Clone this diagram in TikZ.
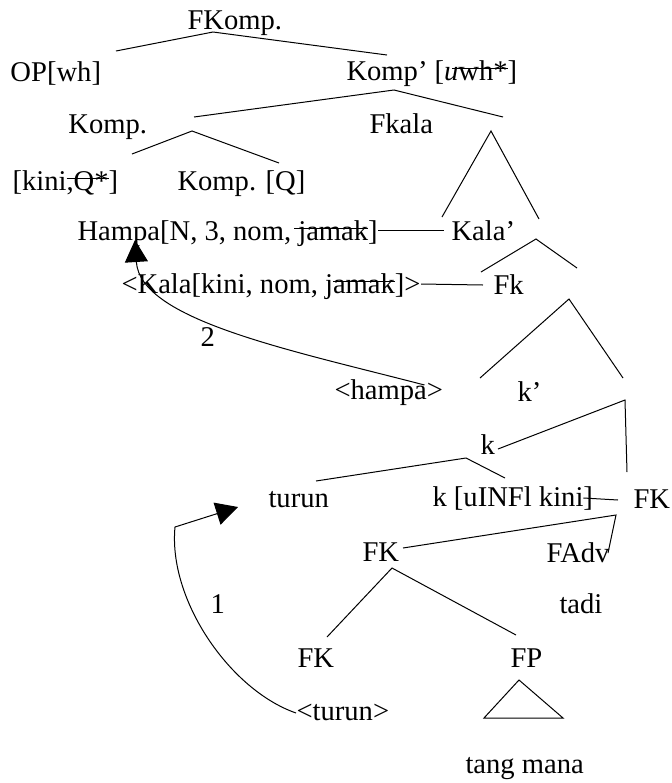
\documentclass[tikz,border=0pt]{standalone}
\usepackage{fontspec}
\setmainfont{Liberation Serif}
\usetikzlibrary{arrows.meta}
\newcommand\strk[2][0pt]{\begingroup\setbox0\hbox{#2}\rlap{\hskip-#1\rule[0.37em]{\dimexpr\wd0+#1\relax}{0.5pt}}\box0\endgroup}
\begin{document}
\begin{tikzpicture}[x=0.5pt,y=-0.5pt,line width=0.5pt,
  every node/.style={font=\fontsize{14.3}{17}\selectfont},
  lbl/.style={anchor=base west,inner sep=0pt},
  mv/.style={-{Triangle[length=11pt,width=11.5pt]}},
  ]
\useasboundingbox (0,0) rectangle (672,783);
\node[lbl] (fkomp) at (187,29) {FKomp.};
\node[lbl] (op) at (10,81) {OP[wh]};
\node[lbl] (kompbar) at (346,80) {Komp’ [\textit{u}\strk[3pt]{wh*}]};
\node[lbl] (komp) at (68,133) {Komp.};
\node[lbl] (fkala) at (369,133) {Fkala};
\node[lbl] (kiniq) at (12,190) {[kini\strk{,Q*}]};
\node[lbl] (kompq) at (177,190) {Komp. [Q]};
\node[lbl] (hampa) at (77,240) {Hampa[N, 3, nom, \strk[2pt]{jamak}]};
\node[lbl] (kalabar) at (451,240) {Kala’};
\node[lbl] (kala) at (121,293) {<Kala[kini, nom, j\strk{amak}]>};
\node[lbl] (fk) at (493,294) {Fk};
\node[lbl] (two) at (200,346) {2};
\node[lbl] (nhampa) at (334,399) {<hampa>};
\node[lbl] (kbar) at (517,401) {k’};
\node[lbl] (k) at (480,454) {k};
\node[lbl] (turun) at (268,507) {turun};
\node[lbl] (kinfl) at (432,506) {k [uINFl kini]};
\node[lbl] (fkr) at (633,508) {FK};
\node[lbl] (fkm) at (362,561) {FK};
\node[lbl] (fadv) at (546,562) {FAdv};
\node[lbl] (one) at (210,613) {1};
\node[lbl] (tadi) at (559,613) {tadi};
\node[lbl] (fkl) at (297,667) {FK};
\node[lbl] (fp) at (510,667) {FP};
\node[lbl] (nturun) at (296,720) {<turun>};
\node[lbl] (tangmana) at (465,773) {tang mana};

\coordinate (fkomp-l) at (116,51); \coordinate (fkomp-t) at (213,32); \coordinate (fkomp-r) at (387,55);
\coordinate (kompbar-l) at (194,117); \coordinate (kompbar-t) at (394,90); \coordinate (kompbar-r) at (503,117);
\coordinate (komp-l) at (132,154); \coordinate (komp-t) at (192,131); \coordinate (komp-r) at (279,163);
\coordinate (fkala-l) at (442,217); \coordinate (fkala-t) at (491,131); \coordinate (fkala-r) at (539,219);
\coordinate (kalabar-l) at (481,272); \coordinate (kalabar-t) at (536,239); \coordinate (kalabar-r) at (577,268);
\coordinate (fk-l) at (480,378); \coordinate (fk-t) at (569,299); \coordinate (fk-r) at (623,378);
\coordinate (kbar-l) at (498,449); \coordinate (kbar-t) at (625,400); \coordinate (kbar-r) at (627,472);
\coordinate (k-l) at (316,481); \coordinate (k-t) at (466,458); \coordinate (k-r) at (505,478);
\coordinate (fkr-l) at (403,548); \coordinate (fkr-t) at (616,515); \coordinate (fkr-r) at (608,553);
\coordinate (fkm-l) at (327,637); \coordinate (fkm-t) at (392,568); \coordinate (fkm-r) at (516,635);
\coordinate (fp-t) at (519,680); \coordinate (fp-l) at (484,718); \coordinate (fp-r) at (563,718);
\coordinate (bend) at (175,527);

\draw (fkomp-l) -- (fkomp-t) -- (fkomp-r);
\draw (kompbar-l) -- (kompbar-t) -- (kompbar-r);
\draw (komp-l) -- (komp-t) -- (komp-r);
\draw (fkala-l) -- (fkala-t) -- (fkala-r);
\draw (kalabar-l) -- (kalabar-t) -- (kalabar-r);
\draw (fk-l) -- (fk-t) -- (fk-r);
\draw (kbar-l) -- (kbar-t) -- (kbar-r);
\draw (k-l) -- (k-t) -- (k-r);
\draw (fkr-l) -- (fkr-t) -- (fkr-r);
\draw (fkm-l) -- (fkm-t) -- (fkm-r);
\draw (fp-t) -- (fp-l) -- (fp-r) -- cycle;

\draw ([yshift=5pt]hampa.base east) -- ([xshift=-3.5pt,yshift=5pt]kalabar.base west);
\draw ([yshift=4.5pt]kala.base east) -- ([xshift=-5pt,yshift=4.5pt]fk.base west);
\draw ([xshift=-5pt,yshift=4pt]kinfl.base east) -- ([xshift=-7.5pt,yshift=4pt]fkr.base west);

\draw[mv] ([xshift=-9.5pt,yshift=7pt]nhampa.base east) .. controls (290,350) and (140,320) .. ([xshift=29pt]hampa.base west);
\draw[mv] ([yshift=3.5pt]nturun.base west) .. controls (230,690) and (168,600) .. (bend) -- ([xshift=-15pt]turun.base west);
\end{tikzpicture}
\end{document}
